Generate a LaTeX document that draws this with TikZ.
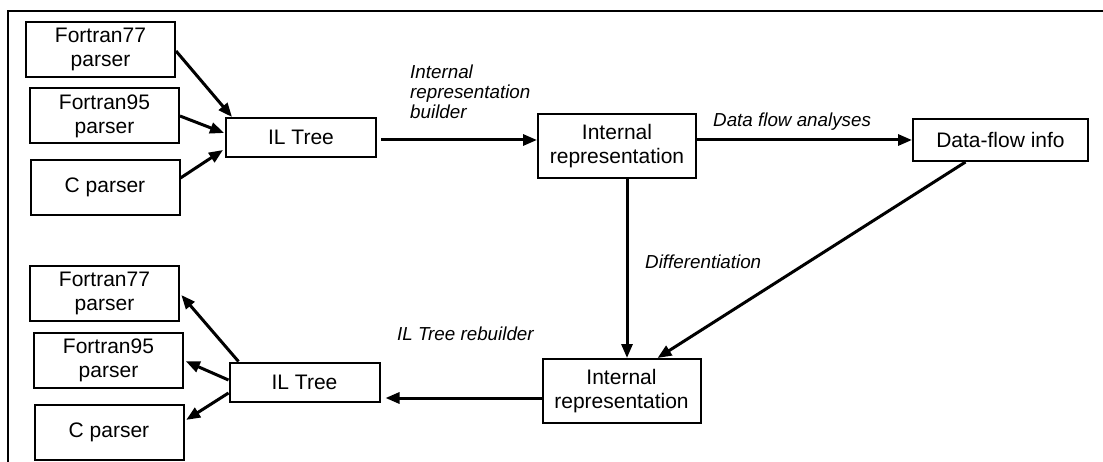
\documentclass[tikz,border=0pt]{standalone}
\usepackage{fontspec}
\setmainfont{Liberation Sans}
\usetikzlibrary{shapes,arrows,arrows.meta,positioning}
\tikzset{basic/.style={draw,line width=2pt,rectangle,align=center,inner sep=0pt,font=\fontsize{21}{24}\selectfont}}
\tikzset{parser/.style={basic,minimum width=149pt,minimum height=55pt}}
\tikzset{iltree/.style={basic,minimum width=150pt,minimum height=39pt}}
\tikzset{irep/.style={basic,minimum width=158pt,minimum height=64pt}}
\tikzset{info/.style={basic,minimum width=175pt,minimum height=42pt}}
\tikzset{arrow/.style={draw,line width=3pt,-{Triangle[length=14pt,width=11pt]}}}
\tikzset{msg/.style={inner sep=0pt,anchor=west,align=left,font=\fontsize{18.8}{20}\selectfont\itshape}}

\begin{document}
\begin{tikzpicture}[x=1pt,y=-1pt]
    \useasboundingbox (0,0) rectangle (1103,462);
    \draw[line width=2pt] (1103,11) -- (8,11) -- (8,462);

    % front end
    \node[parser] (f77a) at (100.5,49.5) {Fortran77\\parser};
    \node[parser] (f95a) at (104.5,116) {Fortran95\\parser};
    \node[parser] (cpa) at (105,187.5) {C parser};
    \node[iltree] (il1) at (301,137.5) {IL Tree};
    \node[irep] (ir1) at (617,146) {Internal\\representation};
    \node[info] (dfi) at (1000.5,140) {Data-flow info};

    % back end
    \node[irep] (ir2) at (621.5,391) {Internal\\representation};
    \node[iltree] (il2) at (304.5,382) {IL Tree};
    \node[parser] (f77b) at (104.5,293.5) {Fortran77\\parser};
    \node[parser] (f95b) at (108.5,360.5) {Fortran95\\parser};
    \node[parser] (cpb) at (109,432) {C parser};

    \node[msg] (m1) at (410,92) {Internal\\representation\\builder};
    \node[msg] (m2) at (713,122) {Data flow analyses};
    \node[msg] (m3) at (645,262) {Differentiation};
    \node[msg] (m4) at (397,334) {IL Tree rebuilder};

        \path[arrow] ([yshift=-1.5pt]f77a.east) -- ([xshift=7pt]il1.north west);
        \path[arrow] (f95a.east) -- ([yshift=4.5pt,xshift=-1pt]il1.west);
        \path[arrow] ([yshift=9.5pt]cpa.east) -- ([yshift=-12.5pt,xshift=-2pt]il1.west);
        \path[arrow,shorten <=4pt] ([yshift=-2.5pt]il1.east) -- ([yshift=-2.5pt]il1.east -| ir1.west);
        \path[arrow] (ir1.east |- dfi.west) -- (dfi.west);
        \path[arrow] ([xshift=10pt]ir1.south) -- ([xshift=10pt]ir1.south |- ir2.north);
        \path[arrow] ([xshift=-35pt]dfi.south) -- ([xshift=36pt]ir2.north);
        \path[arrow,shorten >=5pt] ([yshift=-7pt]ir2.west) -- ([yshift=-7pt]ir2.west -| il2.east);
        \path[arrow,shorten >=2pt] ([xshift=10pt]il2.north west) -- (f77b.east);
        \path[arrow,shorten >=2pt] ([yshift=2pt]il2.west) -- (f95b.east);
        \path[arrow,shorten >=2pt] ([yshift=-11pt]il2.west) -- ([yshift=11pt]cpb.east);
\end{tikzpicture}
\end{document}
